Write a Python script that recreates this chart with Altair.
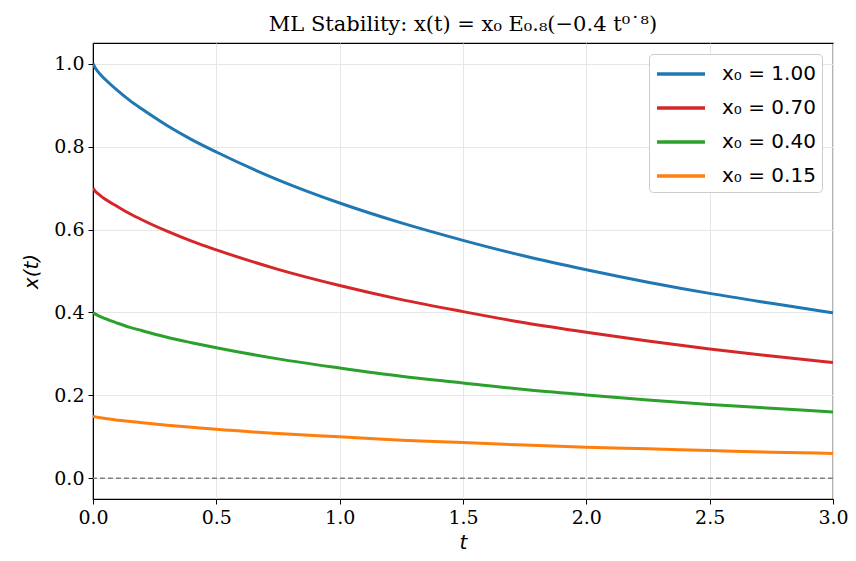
import altair as alt
import pandas as pd

# time grid
t_vals = [0.0, 0.01, 0.03, 0.05, 0.1, 0.15, 0.2, 0.3, 0.4, 0.5, 0.75, 1.0,
          1.25, 1.5, 1.75, 2.0, 2.25, 2.5, 2.75, 3.0]

# series values
s_100 = [1.000, 0.989, 0.974, 0.962, 0.935, 0.911, 0.890, 0.851, 0.817, 0.787,
         0.720, 0.664, 0.616, 0.574, 0.536, 0.503, 0.473, 0.446, 0.422, 0.399]
s_070 = [0.700, 0.692, 0.682, 0.673, 0.655, 0.638, 0.623, 0.596, 0.572, 0.551,
         0.504, 0.465, 0.431, 0.402, 0.375, 0.352, 0.331, 0.312, 0.295, 0.279]
s_040 = [0.400, 0.396, 0.390, 0.385, 0.374, 0.364, 0.356, 0.340, 0.327, 0.315,
         0.288, 0.266, 0.246, 0.230, 0.214, 0.201, 0.189, 0.178, 0.169, 0.160]
s_015 = [0.150, 0.148, 0.146, 0.144, 0.140, 0.137, 0.134, 0.128, 0.123, 0.118,
         0.108, 0.100, 0.092, 0.086, 0.080, 0.075, 0.071, 0.067, 0.063, 0.060]

labels = ["x₀ = 1.00", "x₀ = 0.70", "x₀ = 0.40", "x₀ = 0.15"]
colors = ["#1f77b4", "#d62728", "#2ca02c", "#ff7f0e"]

x_ticks = [0.0, 0.5, 1.0, 1.5, 2.0, 2.5, 3.0]
y_ticks = [0.0, 0.2, 0.4, 0.6, 0.8, 1.0]

rows = []
for lab, vals in zip(labels, [s_100, s_070, s_040, s_015]):
    for tv, v in zip(t_vals, vals):
        rows.append({"t": tv, "x": v, "series": lab})
df = pd.DataFrame(rows)

x_enc = alt.X("t:Q", scale=alt.Scale(domain=[0, 3], nice=False, zero=False),
              axis=alt.Axis(values=x_ticks, format=".1f", title="t", grid=True,
                            labelFlush=False))
y_enc = alt.Y("x:Q", scale=alt.Scale(domain=[-0.05, 1.05], nice=False, zero=False),
              axis=alt.Axis(values=y_ticks, format=".1f", title="x(t)", grid=True,
                            labelFlush=False))

zero_line = alt.Chart(pd.DataFrame({"x": [0.0]})).mark_rule(
    color="#808080", strokeDash=[5, 3], strokeWidth=1.3
).encode(y=y_enc)

lines = alt.Chart(df).mark_line(strokeWidth=3, interpolate="monotone", clip=True).encode(
    x=x_enc,
    y=y_enc,
    color=alt.Color(
        "series:N",
        sort=labels,
        scale=alt.Scale(domain=labels, range=colors),
        legend=alt.Legend(
            title=None, orient="top-right", offset=11,
            symbolType="M-1,0H3", symbolSize=576, symbolStrokeWidth=3.5,
            symbolFillColor="transparent",
            labelFont="DejaVu Sans", labelFontSize=20, labelColor="black",
            labelLimit=300, rowPadding=10, padding=6, labelOffset=39,
            strokeColor="#cccccc", fillColor="white", cornerRadius=4,
        ),
    ),
)

chart = alt.layer(zero_line, lines).properties(
    width=740,
    height=456,
    autosize=alt.AutoSizeParams(type="none"),
    padding={"left": 85, "top": 35, "right": 15, "bottom": 54},
    title=alt.TitleParams(
        "ML Stability: x(t) = x₀ E₀.₈(−0.4 t⁰˙⁸)",
        font="DejaVu Serif", fontSize=21, fontWeight="normal",
        color="black", anchor="middle", offset=8,
    ),
).configure_view(
    stroke="black", strokeWidth=1.2
).configure_axis(
    labelFont="DejaVu Serif", labelFontSize=19, labelColor="black",
    tickColor="black", domainColor="black", tickSize=5, labelPadding=4,
    gridColor="#e6e6e6", gridWidth=1,
    titleFont="DejaVu Sans", titleFontStyle="italic", titleFontWeight="normal",
    titleFontSize=20, titleColor="black",
).configure_axisX(titlePadding=5).configure_axisY(titlePadding=12)

chart.save("out.html", embed_options={"renderer": "svg", "actions": False})
